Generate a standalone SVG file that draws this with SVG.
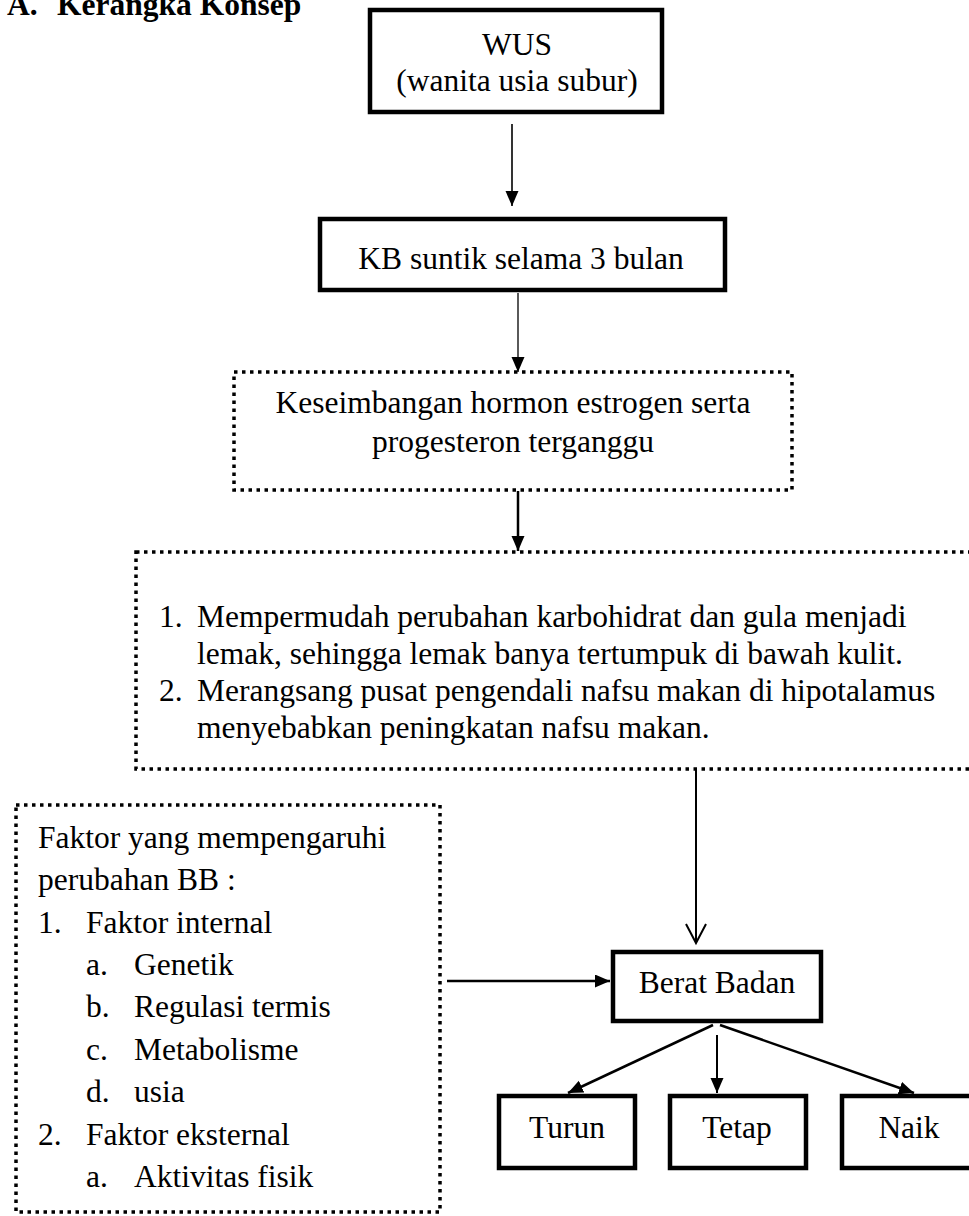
<svg xmlns="http://www.w3.org/2000/svg" width="969" height="1216" viewBox="0 0 969 1216">
<style>
text{font-family:"Liberation Serif","Times New Roman",serif;font-size:31.5px;fill:#000}
.c{text-anchor:middle}
.b{font-weight:bold}
.solid{fill:#fff;stroke:#000;stroke-width:4.5}
.dot{fill:none;stroke:#000;stroke-width:3.5;stroke-dasharray:3.5 4.5}
.ln{fill:none;stroke:#000}
</style>
<defs>
<marker id="ah" markerUnits="userSpaceOnUse" markerWidth="16" markerHeight="14" refX="15" refY="6.5" orient="auto">
<path d="M0,0 L15,6.5 L0,13 z" fill="#000"/>
</marker>
</defs>
<rect width="969" height="1216" fill="#fff"/>
<g id="title">
<text class="b" x="7" y="15">A.</text>
<text class="b" x="57" y="15">Kerangka Konsep</text>
</g>
<g id="connectors">
<line class="ln" x1="512" y1="124" x2="512" y2="206" stroke-width="1.6" marker-end="url(#ah)"/>
<line class="ln" x1="518" y1="293" x2="518" y2="372" stroke-width="1.3" marker-end="url(#ah)"/>
<line class="ln" x1="518" y1="491" x2="518" y2="551" stroke-width="2.5" marker-end="url(#ah)"/>
<line class="ln" x1="696" y1="769" x2="696" y2="943" stroke-width="2"/>
<polyline class="ln" points="686,924 696,943 706,924" stroke-width="2"/>
<line class="ln" x1="447" y1="981" x2="610" y2="981" stroke-width="2.5" marker-end="url(#ah)"/>
<line class="ln" x1="713" y1="1025" x2="568" y2="1093" stroke-width="2.5" marker-end="url(#ah)"/>
<line class="ln" x1="717" y1="1035" x2="717" y2="1093" stroke-width="2" marker-end="url(#ah)"/>
<line class="ln" x1="720" y1="1025" x2="914" y2="1093" stroke-width="2.5" marker-end="url(#ah)"/>
</g>
<g id="wus">
<rect class="solid" x="370" y="10" width="292" height="102"/>
<text class="c" x="517" y="55">WUS</text>
<text class="c" x="517" y="91">(wanita usia subur)</text>
</g>
<g id="kb">
<rect class="solid" x="320" y="219" width="405" height="71"/>
<text class="c" x="521" y="269">KB suntik selama 3 bulan</text>
</g>
<g id="hormon">
<rect class="dot" x="234" y="372" width="558" height="118"/>
<text class="c" x="513" y="413">Keseimbangan hormon estrogen serta</text>
<text class="c" x="513" y="452">progesteron terganggu</text>
</g>
<g id="efek">
<rect class="dot" x="136" y="552" width="860" height="217"/>
<text x="159" y="627">1.</text>
<text x="197" y="627">Mempermudah perubahan karbohidrat dan gula menjadi</text>
<text x="197" y="664">lemak, sehingga lemak banya tertumpuk di bawah kulit.</text>
<text x="159" y="701">2.</text>
<text x="197" y="701">Merangsang pusat pengendali nafsu makan di hipotalamus</text>
<text x="197" y="738">menyebabkan peningkatan nafsu makan.</text>
</g>
<g id="faktor">
<rect class="dot" x="16" y="805" width="424" height="407"/>
<text x="38" y="848">Faktor yang mempengaruhi</text>
<text x="38" y="890">perubahan BB :</text>
<text x="38" y="933">1.</text>
<text x="86" y="933">Faktor internal</text>
<text x="86" y="975">a.</text>
<text x="134" y="975">Genetik</text>
<text x="86" y="1017">b.</text>
<text x="134" y="1017">Regulasi termis</text>
<text x="86" y="1060">c.</text>
<text x="134" y="1060">Metabolisme</text>
<text x="86" y="1102">d.</text>
<text x="134" y="1102">usia</text>
<text x="38" y="1145">2.</text>
<text x="86" y="1145">Faktor eksternal</text>
<text x="86" y="1187">a.</text>
<text x="134" y="1187">Aktivitas fisik</text>
</g>
<g id="berat">
<rect class="solid" x="613" y="952" width="208" height="69"/>
<text class="c" x="717" y="993">Berat Badan</text>
</g>
<g id="turun">
<rect class="solid" x="499" y="1096" width="136" height="72"/>
<text class="c" x="567" y="1138">Turun</text>
</g>
<g id="tetap">
<rect class="solid" x="670" y="1096" width="136" height="72"/>
<text class="c" x="737" y="1138">Tetap</text>
</g>
<g id="naik">
<rect class="solid" x="842" y="1096" width="136" height="72"/>
<text class="c" x="909" y="1138">Naik</text>
</g>
</svg>
